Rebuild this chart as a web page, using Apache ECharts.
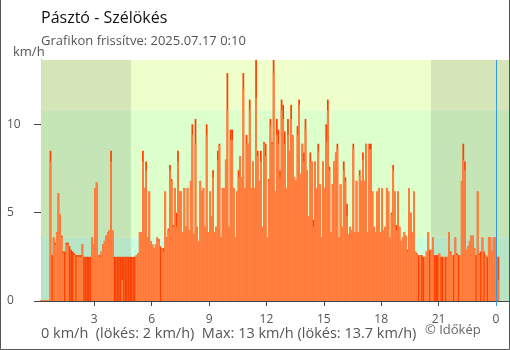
<!DOCTYPE html>
<html>
<head>
<meta charset="utf-8">
<script src="https://cdn.jsdelivr.net/npm/echarts@6/dist/echarts.min.js"></script>
<style>
html,body{margin:0;padding:0;background:#fff;}
#chart{width:510px;height:350px;}
</style>
</head>
<body>
<div id="chart"></div>
<script>
// ---- data ----
const titleText = "Pásztó - Szélökés";
const subtitleText = "Grafikon frissítve: 2025.07.17 0:10";
const unitText = "km/h";
const footerText = "0 km/h  (lökés: 2 km/h)  Max: 13 km/h (lökés: 13.7 km/h)";
const copyrightText = "© Időkép";

const startTime = "00:10";   // first reading
const stepMinutes = 5;

// wind speed (km/h), one value per 5 minutes
const wind = [
0.05,0.05, 0.05,0.05, 0.05,0.05, 7.9,0, 3.6,3.2,
3.9,6.1, 4.9,3.6, 2.7,0, 3.2,3.2, 0,0,
0,2.6, 0,2.5, 2.5,2.5, 3.2,0, 0,0,
0,0, 3.6,3.2, 6.4,6.7, 2.6,2.5, 2.8,3.2,
3.4,3.7, 3.9,4.0, 7.9,4.0, 0,0, 0,0,
0,1.2, 0,0, 0,0, 0,0, 0,0,
2.6,2.7, 3.9,3.9, 7.9,6.4, 7.4,3.6, 6.2,3.4,
3.2,3.0, 3.2,3.6, 3.4,0, 3.0,2.8, 6.2,3.6,
4.0,7.4, 6.8,4.2, 6.4,4.2, 7.9,6.2, 6.2,3.9,
6.4,4.2, 6.4,4.0, 6.8,9.4, 3.8,8.9, 4.2,3.4,
6.8,6.2, 6.4,4.2, 9.4,3.9, 6.2,4.8, 7.0,3.9,
4.2,8.0, 8.8,3.6, 6.4,6.4, 8.0,10.8, 4.2,9.1,
9.1,6.4, 3.6,6.2, 7.0,8.2, 7.0,12.0, 6.4,8.9,
8.9,10.8, 6.4,7.9, 6.4,11.5, 8.2,6.8, 7.9,4.2,
8.9,8.2, 3.6,6.8, 9.9,8.9, 12.9,6.2, 9.4,8.9,
7.0,10.8, 10.3,8.9, 6.4,9.4, 8.5,10.3, 9.4,7.0,
6.8,9.4, 11.1,7.2, 8.9,7.9, 9.7,7.4, 4.8,7.9,
7.9,4.2, 7.9,6.4, 8.5,6.6, 3.6,7.9, 6.4,9.0,
10.8,7.4, 3.9,6.6, 7.9,8.4, 8.6,3.6, 6.6,4.2,
7.4,6.8, 4.8,3.8, 4.2,4.0, 8.6,3.9, 6.8,3.9,
7.1,6.8, 8.0,6.8, 8.9,3.9, 8.6,8.6, 6.2,4.2,
3.9,6.2, 6.4,3.9, 6.4,4.0, 4.2,6.4, 6.2,3.6,
4.9,7.4, 6.2,4.0, 6.2,4.2, 3.4,3.6, 3.9,3.7,
2.8,6.4, 5.0,3.9, 6.2,2.8, 2.7,0, 2.6,0,
0,2.5, 2.8,3.9, 0,2.9, 3.6,0, 0,0,
2.7,0, 0,2.5, 0,2.5, 3.9,2.7, 2.6,0,
3.6,2.6, 0,2.6, 6.8,8.0, 7.4,2.9, 3.1,3.4,
3.7,3.7, 3.0,0, 6.2,2.6, 0,3.6, 0,2.6,
0,3.6, 3.6,2.8, 3.6,3.6, 2.5,1.2
];
// gust (lökés, km/h), one value per 5 minutes
const gust = [
0,0, 0,0, 0,0, 8.5,2.6, 3.6,3.3,
3.9,6.1, 4.9,3.7, 2.8,2.8, 3.3,3.3, 3.1,2.9,
2.8,2.7, 2.6,2.6, 2.6,2.6, 3.2,2.5, 2.5,2.5,
2.5,2.5, 3.6,3.2, 6.4,6.7, 2.6,2.6, 2.8,3.2,
3.4,3.7, 3.9,4.0, 8.5,4.0, 2.5,2.5, 2.5,2.5,
2.5,2.5, 2.5,2.5, 2.5,2.5, 2.5,2.5, 2.5,2.5,
2.6,2.7, 3.9,3.9, 8.5,6.4, 7.9,3.6, 6.2,3.4,
3.2,3.0, 3.2,3.6, 3.5,3.1, 3.0,3.0, 6.2,3.6,
4.1,7.7, 6.9,4.3, 6.4,5.0, 8.5,6.2, 6.2,3.9,
6.4,4.2, 6.4,4.0, 6.8,10.0, 3.8,10.3, 4.2,3.4,
6.8,6.2, 6.4,4.2, 10.0,3.9, 6.2,4.8, 7.4,3.9,
4.2,8.5, 8.9,3.6, 6.4,6.4, 8.0,12.9, 4.2,9.7,
9.7,6.4, 3.6,6.2, 7.4,8.2, 7.0,12.9, 6.4,9.4,
8.9,11.4, 6.4,7.9, 6.4,13.7, 8.5,6.8, 8.5,4.2,
9.0,8.9, 3.6,6.9, 10.3,9.0, 13.7,6.2, 10.3,9.7,
7.4,11.4, 11.1,9.6, 6.4,10.3, 8.5,11.1, 9.4,7.0,
6.8,9.9, 11.4,7.2, 8.9,8.4, 10.3,7.4, 4.8,8.4,
7.9,4.6, 7.9,6.4, 8.9,6.6, 3.6,7.9, 6.4,10.0,
11.4,7.6, 3.9,6.6, 7.9,8.4, 8.9,3.6, 6.6,4.2,
7.9,7.0, 5.5,3.8, 4.2,4.0, 8.9,3.9, 6.8,3.9,
7.4,6.8, 8.4,6.8, 8.9,3.9, 8.9,8.9, 6.2,4.2,
3.9,6.2, 6.4,3.9, 6.4,4.0, 4.2,6.4, 6.2,3.6,
5.0,7.7, 6.2,4.3, 6.2,4.2, 3.4,3.6, 3.9,3.7,
2.9,6.4, 5.0,3.9, 6.2,2.8, 2.7,2.6, 2.6,2.6,
2.5,2.5, 2.8,3.9, 2.9,2.9, 3.6,2.6, 2.6,2.6,
2.7,2.5, 2.5,2.5, 2.5,2.5, 3.9,2.8, 2.6,2.6,
3.6,2.7, 2.6,2.6, 6.8,8.9, 7.9,2.9, 3.1,3.4,
3.7,3.7, 3.0,2.6, 6.2,2.7, 2.8,3.6, 2.8,2.6,
2.5,3.6, 3.6,2.8, 3.6,3.6, 2.5,2.5
];

const xTicks = [3, 6, 9, 12, 15, 18, 21];
const xLabels = [3, 6, 9, 12, 15, 18, 21, 24];
const yTicks = [0, 5, 10];
const bandLimits = [0, 3.6, 10.8];
const sunrise = 4.92;   // hours
const sunset = 20.6;
const nowMarker = 24;

// ---- build ----
const [sh, sm] = startTime.split(':').map(Number);
const startH = sh + sm / 60;
const stepH = stepMinutes / 60;
const xs = wind.map((_, i) => startH + (i + 0.5) * stepH);
const windData = wind.map((v, i) => [xs[i], v]);
const gustData = gust.map((v, i) => [xs[i], v]);

const X_MIN = 0.214, X_MAX = 24.68, Y_MAX = 13.64;
const FONT = "'Open Sans', 'Noto Sans', sans-serif";
const BAR_W = 1.75;

const chart = echarts.init(document.getElementById('chart'), null, {renderer: 'canvas'});
chart.setOption({
  animation: false,
  backgroundColor: '#fff',
  grid: {left: 41, right: 1, top: 60, height: 241, containLabel: false},
  xAxis: [{
    type: 'value', min: X_MIN, max: X_MAX,
    axisLine: {show: true, onZero: false, lineStyle: {color: '#444', width: 1}},
    axisTick: {show: true, customValues: xTicks, length: 5, lineStyle: {color: '#444'}},
    axisLabel: {show: true, customValues: xLabels, formatter: v => String(Math.round(v) % 24),
      color: '#555', fontSize: 12, fontFamily: FONT, margin: 13},
    splitLine: {show: false}
  }, {
    type: 'value', min: X_MIN, max: X_MAX, position: 'bottom',
    axisLine: {show: false},
    axisTick: {show: true, customValues: [nowMarker], length: 5, lineStyle: {color: '#3399dd'}},
    axisLabel: {show: false},
    splitLine: {show: false}
  }],
  yAxis: [{
    type: 'value', min: 0, max: Y_MAX,
    axisLine: {show: true, lineStyle: {color: '#444', width: 1}},
    axisTick: {show: true, customValues: yTicks, length: 7, lineStyle: {color: '#444'}},
    axisLabel: {show: true, customValues: yTicks, color: '#555', fontSize: 12, fontFamily: FONT,
      align: 'left', margin: 34},
    splitLine: {show: false}
  }, {
    type: 'value', min: 0, max: Y_MAX, position: 'left',
    axisLine: {show: false},
    axisTick: {show: true, inside: true, customValues: yTicks, length: 6, lineStyle: {color: '#444'}},
    axisLabel: {show: false},
    splitLine: {show: false}
  }],
  series: [{
    type: 'line', data: [], z: 1, silent: true,
    markArea: {
      silent: true,
      data: [
        [{yAxis: bandLimits[0], itemStyle: {color: '#ccffdd'}}, {yAxis: bandLimits[1]}],
        [{yAxis: bandLimits[1], itemStyle: {color: '#ddffcc'}}, {yAxis: bandLimits[2]}],
        [{yAxis: bandLimits[2], itemStyle: {color: '#eeffcc'}}, {yAxis: Y_MAX}],
        [{xAxis: X_MIN, itemStyle: {color: 'rgba(0,0,0,0.1)'}}, {xAxis: sunrise}],
        [{xAxis: sunset, itemStyle: {color: 'rgba(0,0,0,0.1)'}}, {xAxis: X_MAX}]
      ]
    }
  }, {
    name: 'lökés', type: 'bar', data: gustData, z: 2,
    barWidth: BAR_W, barGap: '-100%',
    itemStyle: {color: '#ff4000'},
    markLine: {
      silent: true, symbol: ['none', 'none'], label: {show: false},
      lineStyle: {color: '#3399dd', width: 1, type: 'solid'},
      data: [{xAxis: nowMarker}]
    }
  }, {
    name: 'szél', type: 'bar', data: windData, z: 3,
    barWidth: BAR_W, barGap: '-100%',
    itemStyle: {color: '#ff8040'}
  }],
  graphic: [
    {type: 'text', left: 41, top: 10, style: {text: titleText, font: "16px " + FONT, fill: '#111'}},
    {type: 'text', left: 41, top: 35, style: {text: subtitleText, font: "13px " + FONT, fill: '#555'}},
    {type: 'text', left: 13, top: 46, style: {text: unitText, font: "13px " + FONT, fill: '#555'}},
    {type: 'text', left: 41, top: 326, style: {text: footerText, font: "14.5px " + FONT, fill: '#555'}},
    {type: 'text', left: 425, top: 324, style: {text: copyrightText, font: "13px " + FONT, fill: '#666'}},
    {type: 'polyline', silent: true, shape: {points: [[0.5, 0], [0.5, 349.5], [509.5, 349.5], [509.5, 0]]},
      style: {stroke: '#555', fill: null, lineWidth: 1}}
  ]
});
</script>
</body>
</html>
